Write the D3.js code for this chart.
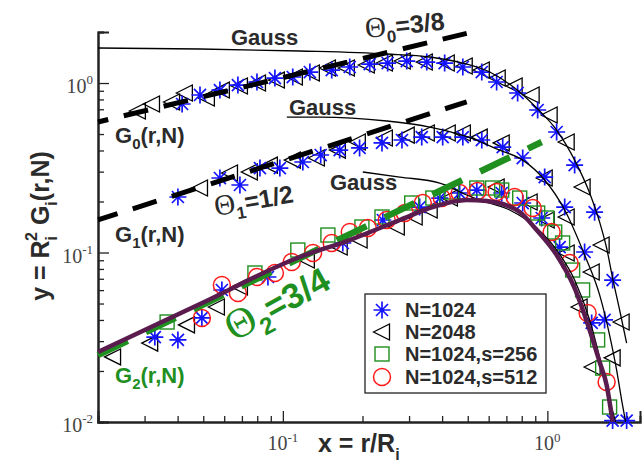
<!DOCTYPE html>
<html><head><meta charset="utf-8">
<script src="https://cdn.jsdelivr.net/npm/d3@7"></script>
<style>body{margin:0;background:#fff}svg{display:block}</style>
</head><body>
<svg id="chart" width="642" height="470"></svg>
<script>
// ---------- data (x = r/R_i , y = R_i^2 G_i(r,N)) ----------
const xDomain = [0.02, 2.24];
const yDomain = [0.01, 2];
const xMajorTicks = [0.1, 1];
const xMajorExp = ["-1", "0"];
const xMinorTicks = [0.03,0.04,0.05,0.06,0.07,0.08,0.09,0.2,0.3,0.4,0.5,0.6,0.7,0.8,0.9,2];
const yMajorTicks = [0.01, 0.1, 1];
const yMajorExp = ["-2", "-1", "0"];
const yMinorTicks = [0.02,0.03,0.04,0.05,0.06,0.07,0.08,0.09,0.2,0.3,0.4,0.5,0.6,0.7,0.8,0.9,2];

// G0, N=1024 (stars)
const g0N1024 = [[0.0416,0.752],[0.0486,0.850],[0.0578,0.909],[0.0676,0.973],[0.0798,1.014],[0.0933,1.070],[0.109,1.085],[0.1265,1.161],[0.153,1.193],[0.179,1.243],[0.213,1.294],[0.249,1.312],[0.294,1.348],[0.350,1.330],[0.409,1.312],[0.479,1.243],[0.565,1.161],[0.643,1.014],[0.772,0.873],[0.919,0.693],[1.084,0.514],[1.268,0.328],[1.509,0.173],[1.765,0.0688]];
// G0, N=2048 (triangles)
const g0N2048 = [[0.0283,0.684],[0.0320,0.752],[0.0381,0.773],[0.0426,0.873],[0.0516,0.816],[0.0588,0.909],[0.0688,0.960],[0.0805,1.000],[0.0949,1.041],[0.111,1.085],[0.1287,1.146],[0.148,1.226],[0.1745,1.226],[0.2076,1.277],[0.243,1.312],[0.284,1.348],[0.344,1.330],[0.4165,1.312],[0.487,1.260],[0.565,1.193],[0.649,1.070],[0.752,0.960],[0.872,0.850],[1.020,0.648],[1.183,0.449],[1.359,0.2435],[1.604,0.1107],[1.909,0.0389]];
// G1, N=1024
const g1N1024 = [[0.0401,0.2126],[0.0578,0.2751],[0.0688,0.2502],[0.0819,0.315],[0.0974,0.315],[0.119,0.342],[0.139,0.376],[0.164,0.402],[0.195,0.414],[0.237,0.443],[0.282,0.461],[0.335,0.480],[0.402,0.480],[0.479,0.480],[0.565,0.461],[0.678,0.419],[0.807,0.361],[0.977,0.2788],[1.163,0.1855],[1.383,0.1007],[1.646,0.0400],[1.994,0.0102]];
// G1, N=2048
const g1N2048 = [[0.0486,0.2402],[0.0631,0.2944],[0.0750,0.2985],[0.0893,0.328],[0.109,0.351],[0.1344,0.361],[0.1614,0.402],[0.192,0.449],[0.243,0.474],[0.294,0.493],[0.350,0.507],[0.420,0.507],[0.479,0.507],[0.555,0.480],[0.672,0.443],[0.977,0.2751],[1.183,0.162],[1.471,0.0767],[1.765,0.0239]];
// G2, N=1024
const g2N1024 = [[0.0328,0.0317],[0.0401,0.0305],[0.0494,0.0411],[0.0588,0.0601],[0.0878,0.0717],[0.1685,0.1138],[0.2387,0.1555],[0.329,0.1855],[0.392,0.2096],[0.466,0.2244],[0.541,0.2337],[0.672,0.2244],[0.807,0.1959],[0.952,0.1598],[1.113,0.1077],[1.471,0.0384],[1.765,0.0102]];
// G2, N=2048
const g2N2048 = [[0.0228,0.0242],[0.0315,0.0292],[0.0434,0.0374],[0.0563,0.0477],[0.0688,0.0626],[0.1232,0.0903],[0.164,0.1077],[0.195,0.1185],[0.2696,0.1414],[0.315,0.162],[0.359,0.1781],[0.428,0.2096],[0.643,0.2435],[0.857,0.1986],[0.994,0.1555],[1.183,0.0993],[1.324,0.0477],[1.483,0.0211]];
// G2, N=1024, s=256 (squares)
const g2S256 = [[0.0365,0.0389],[0.0784,0.0757],[0.1139,0.1034],[0.148,0.1268],[0.199,0.1414],[0.237,0.162],[0.307,0.1959],[0.369,0.2096],[0.435,0.2275],[0.541,0.2402],[0.621,0.2402],[0.672,0.2337],[0.786,0.2096],[0.919,0.171],[0.994,0.1598],[1.066,0.1321],[1.142,0.1138],[1.246,0.0788],[1.359,0.0601],[1.549,0.0305],[1.618,0.0208],[1.719,0.01226]];
// G2, N=1024, s=512 (circles)
const g2S512 = [[0.0494,0.0411],[0.0588,0.0643],[0.0676,0.0577],[0.0798,0.0717],[0.0933,0.0757],[0.108,0.0879],[0.130,0.0993],[0.153,0.1138],[0.179,0.1321],[0.2095,0.1395],[0.247,0.1555],[0.289,0.171],[0.338,0.1959],[0.399,0.2096],[0.466,0.2244],[0.545,0.2306],[0.643,0.2275],[0.752,0.2126],[0.880,0.183],[1.038,0.1321],[1.214,0.0867],[1.420,0.044],[1.675,0.0172]];

// Gauss curves
const gauss0 = [[0.02,1.609],[0.0486,1.588],[0.1159,1.545],[0.2471,1.483],[0.3592,1.424],[0.4786,1.312],[0.6053,1.161],[0.7523,0.934],[0.9113,0.712],[1.084,0.528],[1.268,0.351],[1.445,0.2244],[1.576,0.1513],[1.675,0.1063],[1.765,0.0707],[1.876,0.0458],[1.994,0.0292]];
const gauss1 = [[0.1035,0.630],[0.138,0.630],[0.2471,0.597],[0.3592,0.550],[0.487,0.487],[0.6605,0.402],[0.807,0.351],[0.977,0.2677],[1.163,0.1781],[1.383,0.0967],[1.576,0.0562],[1.719,0.0326],[1.827,0.0203],[1.909,0.01348],[1.976,0.0100]];
const gauss2 = [[0.2005,0.2985],[0.2767,0.2788],[0.3918,0.257],[0.4955,0.2184],[0.5549,0.204],[0.7205,0.1781],[0.9113,0.1395],[1.084,0.1034],[1.268,0.0688],[1.445,0.040],[1.618,0.0203],[1.719,0.01348],[1.811,0.0100]];
// G2 fit (thick purple)
const fit2 = [[0.02,0.0259],[0.0486,0.0497],[0.1159,0.0941],[0.1791,0.1185],[0.2767,0.1555],[0.3687,0.1855],[0.4955,0.204],[0.5898,0.2014],[0.6779,0.1933],[0.7858,0.1733],[0.9113,0.1358],[1.084,0.0967],[1.268,0.0617],[1.445,0.0349],[1.576,0.0226],[1.675,0.01653],[1.765,0.0100]];
// power-law guides
const theta0Line = [[0.02,0.589],[0.4955,1.962]];
const theta1Line = [[0.02,0.1556],[0.4955,0.7745]];
const theta2Line = [[0.02,0.0248],[0.9517,0.449]];

const legendLabels = ["N=1024","N=2048","N=1024,s=256","N=1024,s=512"];

// ---------- drawing ----------
const svg = d3.select("#chart");
const x = d3.scaleLog().domain(xDomain).range([98, 640]);
const y = d3.scaleLog().domain(yDomain).range([422, 32]);
const ink = "#222";
const txt = "#2b2b2b";
const blue = "#1414ff", green = "#1f8f1f", red = "#ff1a1a", purple = "#5a1c4e";
const sans = "'Liberation Sans', Arial, Helvetica, sans-serif";
const serif = "'Liberation Serif', 'Times New Roman', serif";

// axes
const gx = svg.append("g").attr("transform", "translate(0,422)");
gx.call(d3.axisBottom(x).tickValues(xMinorTicks).tickSize(-6).tickFormat(""));
gx.call(g => g.append("g").call(d3.axisBottom(x).tickValues(xMajorTicks).tickSize(-11).tickFormat("")));
gx.selectAll("path.domain").attr("stroke", ink).attr("stroke-width", 2);
gx.selectAll(".tick line").attr("stroke", ink).attr("stroke-width", 1.3);

const gy = svg.append("g").attr("transform", "translate(98,0)");
gy.call(d3.axisLeft(y).tickValues(yMinorTicks).tickSize(-6).tickFormat(""));
gy.call(g => g.append("g").call(d3.axisLeft(y).tickValues(yMajorTicks).tickSize(-11).tickFormat("")));
gy.selectAll("path.domain").attr("stroke", ink).attr("stroke-width", 2);
gy.selectAll(".tick line").attr("stroke", ink).attr("stroke-width", 1.3);

// tick labels 10^k
xMajorTicks.forEach((v, i) => {
  const t = svg.append("text").attr("x", x(v)).attr("y", 450).attr("text-anchor", "middle")
    .attr("font-family", serif).attr("font-size", 20).attr("fill", "#444");
  t.append("tspan").text("10");
  t.append("tspan").attr("dy", -8).attr("font-size", 13).text(xMajorExp[i]);
});
yMajorTicks.forEach((v, i) => {
  const t = svg.append("text").attr("x", 93).attr("y", y(v) + 10).attr("text-anchor", "end")
    .attr("font-family", serif).attr("font-size", 20).attr("fill", "#444");
  t.append("tspan").text("10");
  t.append("tspan").attr("dy", -9).attr("font-size", 13).text(yMajorExp[i]);
});

// markers
function star(g, cx, cy, r) {
  const d = r * Math.SQRT1_2;
  g.append("path").attr("d", `M${cx-r},${cy}L${cx+r},${cy}M${cx},${cy-r}L${cx},${cy+r}M${cx-d},${cy-d}L${cx+d},${cy+d}M${cx-d},${cy+d}L${cx+d},${cy-d}`)
    .attr("stroke", blue).attr("stroke-width", 1.7).attr("fill", "none");
}
function tri(g, cx, cy) {
  g.append("path").attr("d", `M${cx-8.5},${cy}L${cx+7.5},${cy-8}L${cx+7.5},${cy+8}Z`)
    .attr("stroke", "#000").attr("stroke-width", 1.3).attr("fill", "none");
}
function sq(g, cx, cy) {
  g.append("rect").attr("x", cx-7).attr("y", cy-7).attr("width", 14).attr("height", 14)
    .attr("stroke", green).attr("stroke-width", 1.4).attr("fill", "none");
}
function circ(g, cx, cy) {
  g.append("circle").attr("cx", cx).attr("cy", cy).attr("r", 8.5)
    .attr("stroke", red).attr("stroke-width", 1.5).attr("fill", "none");
}
const mk = svg.append("g");
[g0N2048, g1N2048, g2N2048].forEach(s => s.forEach(p => tri(mk, x(p[0]), y(p[1]))));
[g0N1024, g1N1024, g2N1024].forEach(s => s.forEach(p => star(mk, x(p[0]), y(p[1]), 8.5)));
g2S256.forEach(p => sq(mk, x(p[0]), y(p[1])));
g2S512.forEach(p => circ(mk, x(p[0]), y(p[1])));

// curves
const line = d3.line().x(d => x(d[0])).y(d => y(d[1])).curve(d3.curveMonotoneX);
const straight = d3.line().x(d => x(d[0])).y(d => y(d[1]));
[gauss0, gauss1, gauss2].forEach(c => svg.append("path").attr("d", line(c))
  .attr("fill", "none").attr("stroke", "#000").attr("stroke-width", 1.3));
svg.append("path").attr("d", straight(theta0Line)).attr("fill", "none").attr("stroke", "#000")
  .attr("stroke-width", 5).attr("stroke-dasharray", "25,16").attr("stroke-dashoffset", 14.5);
svg.append("path").attr("d", straight(theta1Line)).attr("fill", "none").attr("stroke", "#000")
  .attr("stroke-width", 5).attr("stroke-dasharray", "25,16").attr("stroke-dashoffset", 4.5);
svg.append("path").attr("d", straight(theta2Line)).attr("fill", "none").attr("stroke", green)
  .attr("stroke-width", 6.5).attr("stroke-dasharray", "33,20");
svg.append("path").attr("d", line(fit2)).attr("fill", "none").attr("stroke", purple).attr("stroke-width", 4.5);

// text labels
function label(xp, yp, parts, opts = {}) {
  const t = svg.append("text").attr("x", xp).attr("y", yp)
    .attr("font-family", sans).attr("font-weight", "bold").attr("font-size", opts.size || 22)
    .attr("fill", opts.fill || txt);
  if (opts.rotate) t.attr("transform", `rotate(${opts.rotate},${xp},${yp})`);
  if (opts.anchor) t.attr("text-anchor", opts.anchor);
  parts.forEach(p => {
    const s = t.append("tspan").text(p.t);
    if (p.dy) s.attr("dy", p.dy);
    if (p.dx) s.attr("dx", p.dx);
    if (p.size) s.attr("font-size", p.size);
    if (p.serif) s.attr("font-family", serif).attr("font-weight", "normal");
  });
  return t;
}
label(231, 45, [{t: "Gauss"}]);
label(289, 115, [{t: "Gauss"}]);
label(330, 190, [{t: "Gauss"}]);
label(115, 143, [{t: "G"}, {t: "0", dy: 6, size: 15}, {t: "(r,N)", dy: -6}]);
label(115, 242, [{t: "G"}, {t: "1", dy: 6, size: 15}, {t: "(r,N)", dy: -6}]);
label(115, 383, [{t: "G"}, {t: "2", dy: 6, size: 15}, {t: "(r,N)", dy: -6}], {fill: green});
label(366, 38, [{t: "Θ", serif: true, size: 29}, {t: "0", dy: 7, size: 17}, {t: "=3/8", dy: -7}], {rotate: -6, size: 25});
label(216, 216, [{t: "Θ", serif: true, size: 29}, {t: "1", dy: 7, size: 17}, {t: "=1/2", dy: -7}], {rotate: -10, size: 25});
label(234, 342, [{t: "Θ", serif: true, size: 42}, {t: "2", dy: 10, size: 24}, {t: "=3/4", dy: -10}], {rotate: -29, size: 35, fill: green});

// axis titles
label(318, 452, [{t: "x = r/R"}, {t: "i", dy: 8, size: 16}], {size: 25});
label(49, 226, [{t: "y = R"}, {t: "i", dy: 8, size: 16}, {t: "2", dx: -5, dy: -20, size: 16}, {t: " G", dy: 12}, {t: "i", dy: 8, size: 16}, {t: "(r,N)", dy: -8}], {size: 25, rotate: -90, anchor: "middle"});

// legend
const lg = svg.append("g");
lg.append("rect").attr("x", 365).attr("y", 294).attr("width", 181).attr("height", 99)
  .attr("fill", "#fff").attr("stroke", ink).attr("stroke-width", 1.3);
const rowY = [310, 332, 354, 377];
star(lg, 382, rowY[0], 8.5); tri(lg, 382, rowY[1]); sq(lg, 382, rowY[2]); circ(lg, 382, rowY[3]);
legendLabels.forEach((s, i) => lg.append("text").attr("x", 405).attr("y", rowY[i] + 7)
  .attr("font-family", sans).attr("font-weight", "bold").attr("font-size", 20).attr("fill", txt).text(s));
</script>
</body></html>
